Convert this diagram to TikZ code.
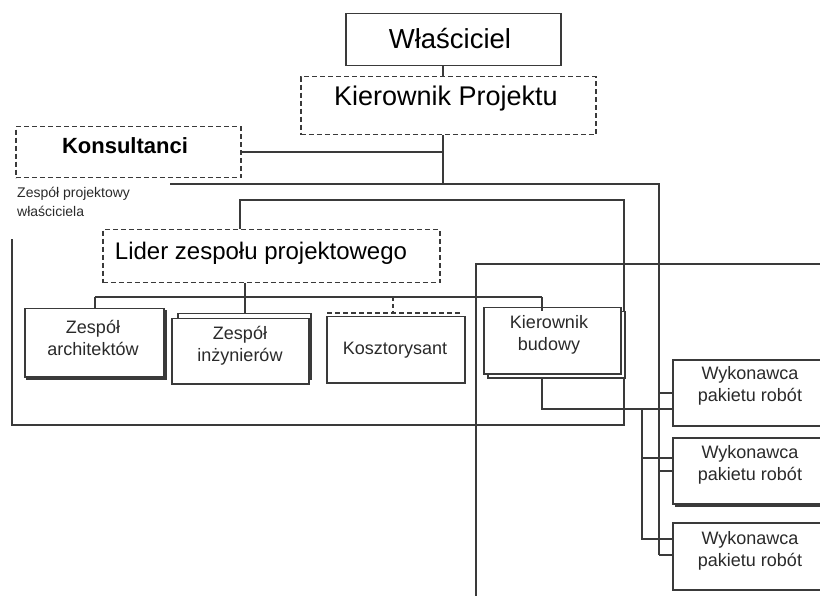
\documentclass[tikz,border=0pt]{standalone}
\usepackage{fontspec}
\setmainfont{Liberation Sans}
\definecolor{linegray}{HTML}{3A3A3A}
\definecolor{textgray}{HTML}{2A2A2A}
\begin{document}
\begin{tikzpicture}[x=1pt,y=-1pt,
  conn/.style={draw=linegray,line width=1.5pt},
  box/.style={draw=linegray,line width=1.5pt,fill=white,inner sep=0pt,anchor=north west},
  dbox/.style={box,dash pattern=on 5pt off 3pt},
  big/.style={inner sep=0pt,text=black,font=\fontsize{27.5}{30}\selectfont},
  small/.style={inner sep=0pt,align=center,text=textgray,font=\fontsize{18}{22}\selectfont},
  note/.style={inner sep=0pt,align=left,text=textgray,font=\fontsize{14}{19}\selectfont}]
\useasboundingbox (0,0) rectangle (820,596);
\begin{scope}
\clip (0,0) rectangle (820,596);

% ---- boxes (positions only; drawn after the connectors) ----
\path
  node[box,minimum width=215,minimum height=52] (own) at (345,13) {}
  node[dbox,minimum width=295,minimum height=58] (pm) at (300,76) {}
  node[dbox,minimum width=225,minimum height=51] (kons) at (15,126) {}
  node[dbox,minimum width=337,minimum height=53] (lid) at (102,229) {};

% ---- connectors ----
\coordinate (c443) at (443,0);
\coordinate (j1) at (443,184);
\coordinate (l1) at (170,184);
\coordinate (r1) at (659,184);
\coordinate (r1b) at (659,555);
\draw[conn] (own.south -| c443) -- (pm.north -| c443);
\draw[conn] (pm.south -| c443) -- (j1);
\draw[conn] (kons.east) -- (kons.east -| c443);
\draw[conn] (l1) -- (r1) -- (r1b);

% owner's project team frame
\coordinate (f1) at (240,200);
\coordinate (f2) at (624,200);
\coordinate (f3) at (624,425);
\coordinate (f4) at (12,425);
\coordinate (f5) at (12,239);
\draw[conn] (lid.north -| f1) -- (f1) -- (f2) -- (f3) -- (f4) -- (f5);

% contractors frame
\coordinate (g1) at (476,600);
\coordinate (g2) at (476,264);
\coordinate (g3) at (830,264);
\draw[conn] (g1) -- (g2) -- (g3);

% remaining boxes (back layers first)
\path
  node[box,minimum width=139,minimum height=68] (archS) at (26,310) {}
  node[box,minimum width=139,minimum height=68] (arch) at (24,308) {}
  node[box,minimum width=133,minimum height=65] (inzB) at (177,313) {}
  node[box,minimum width=137,minimum height=65] (inz) at (171,318) {}
  node[inner sep=0pt,anchor=north west,minimum width=135,minimum height=66] (koszB) at (327,313) {}
  node[box,minimum width=138,minimum height=66] (kosz) at (326,316) {}
  node[box,minimum width=137,minimum height=66] (kbS) at (487,311) {}
  node[box,minimum width=137,minimum height=66] (kb) at (483,307) {}
  node[box,minimum width=160,minimum height=66] (w1) at (672,359) {}
  node[box,minimum width=160,minimum height=66] (w2S) at (675,439) {}
  node[box,minimum width=160,minimum height=66] (w2) at (672,437) {}
  node[box,minimum width=160,minimum height=67] (w3) at (672,522) {};
\draw[conn,dash pattern=on 5pt off 3pt] (koszB.north west) -- (koszB.north east);

% team leader bus
\coordinate (b0) at (245,297);
\coordinate (bL) at (95,297);
\coordinate (bR) at (542,297);
\coordinate (bK) at (393,297);
\draw[conn] (lid.south -| b0) -- (b0);
\draw[conn] (bL) -- (bR);
\draw[conn] (bL) -- (bL |- arch.north);
\draw[conn] (b0) -- (b0 |- inzB.north);
\draw[conn,dash pattern=on 4pt off 3pt] (bK) -- (bK |- koszB.north);
\draw[conn] (bR) -- (bR |- kbS.north);

% site manager to work package contractors
\coordinate (k1) at (542,409);
\coordinate (m1) at (642,409);
\coordinate (m2) at (642,539);
\coordinate (m3) at (642,458);
\draw[conn] (bR |- kbS.south) -- (k1) -- (k1 -| w1.west);
\draw[conn] (m1) -- (m2) -- (m2 -| w3.west);
\draw[conn] (m3) -- (m3 -| w2.west);
\draw[conn] (r1 |- w1.west) -- (w1.west);
\draw[conn] (r1 |- w2.west) -- (w2.west);
\draw[conn] (r1b) -- (r1b -| w3.west);

% ---- texts ----
\node[big] (tOwn) at (450,39) {Właściciel};
\node[big,font=\fontsize{27}{30}\selectfont] (tPm) at (446,99) {Kierownik Projektu};
\node[inner sep=0pt,font=\fontsize{22}{26}\selectfont\bfseries] (tKons) at (125,146) {Konsultanci};
\node[inner sep=0pt,font=\fontsize{24}{28}\selectfont] (tLid) at (261,253) {Lider zespołu projektowego};
\node[note,anchor=west] (tGrp) at (17,202) {Zespół projektowy\\właściciela};
\node[small] (tArch) at (93,338) {Zespół\\architektów};
\node[small] (tInz) at (240,346) {Zespół\\inżynierów};
\node[small] (tKosz) at (395,350) {Kosztorysant};
\node[small] (tKb) at (549,335) {Kierownik\\budowy};
\node[small] (tW1) at (750,386) {Wykonawca\\pakietu robót};
\node[small] (tW2) at (750,465) {Wykonawca\\pakietu robót};
\node[small] (tW3) at (750,551) {Wykonawca\\pakietu robót};
\end{scope}
\end{tikzpicture}
\end{document}
